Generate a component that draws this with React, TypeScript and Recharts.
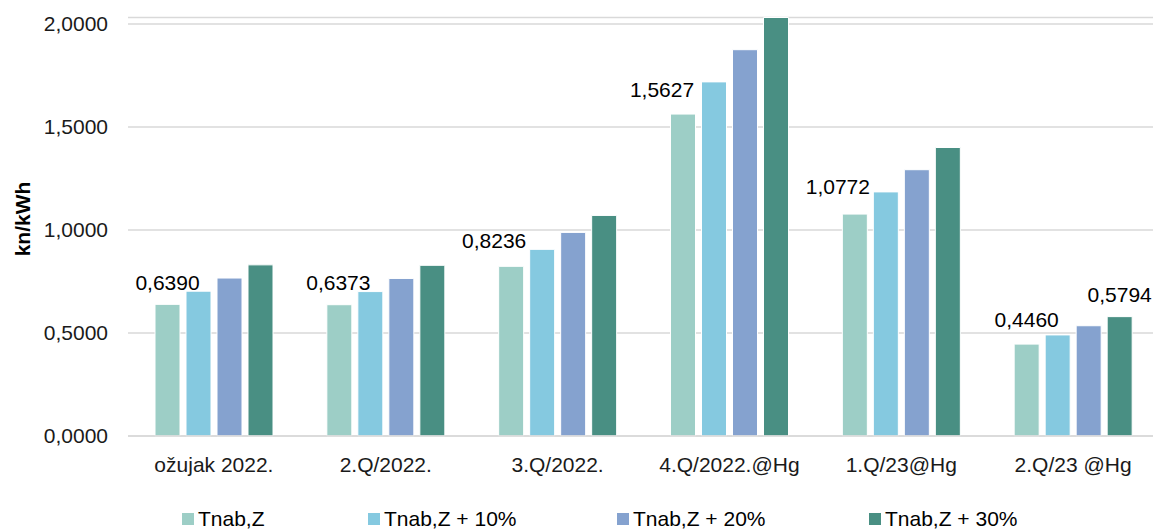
import { BarChart, Bar, XAxis, YAxis, CartesianGrid, Legend, LabelList, Label } from "recharts";

const categories = ["ožujak 2022.", "2.Q/2022.", "3.Q/2022.", "4.Q/2022.@Hg", "1.Q/23@Hg", "2.Q/23 @Hg"];
const tnab = [0.639, 0.6373, 0.8236, 1.5627, 1.0772, 0.446];
const tnab10 = [0.7029, 0.701, 0.906, 1.719, 1.1849, 0.4906];
const tnab20 = [0.7668, 0.7648, 0.9883, 1.8752, 1.2926, 0.5352];
const tnab30 = [0.8307, 0.8285, 1.0707, 2.0315, 1.4004, 0.5794];
const yTicks = [0, 0.5, 1, 1.5, 2];

const seriesNames = ["Tnab,Z", "Tnab,Z + 10%", "Tnab,Z + 20%", "Tnab,Z + 30%"];
const colors = ["#9dcec6", "#85c9e0", "#85a2cf", "#498f83"];

const data = categories.map((name, i) => ({
  name,
  s0: tnab[i],
  s1: tnab10[i],
  s2: tnab20[i],
  s3: tnab30[i],
}));

// hand-placed label nudges, like in the original workbook
const firstLabelNudge = [
  { dx: 0, dy: -14 },
  { dx: -1, dy: -15 },
  { dx: -17, dy: -18 },
  { dx: -21, dy: -17 },
  { dx: -17, dy: -20 },
  { dx: 0, dy: -17 },
];

const legendX = [182, 368, 617, 869];
const FONT = "'Liberation Sans', Arial, sans-serif";
const FS = 21;
const fmt = (v: number) => v.toFixed(4).replace(".", ",");

const FirstLabel = (props: any) => {
  const { x, y, width, value, index } = props;
  const n = firstLabelNudge[index];
  return (
    <text x={x + width / 2 + n.dx} y={y + n.dy} textAnchor="middle" fontSize={FS} fill="#000" fontFamily={FONT}>
      {fmt(value)}
    </text>
  );
};

const LastLabel = (props: any) => {
  const { x, y, width, value, index } = props;
  if (index !== categories.length - 1) return null;
  return (
    <text x={x + width / 2} y={y - 15} textAnchor="middle" fontSize={FS} fill="#000" fontFamily={FONT}>
      {fmt(value)}
    </text>
  );
};

const renderLegend = () => (
  <div style={{ position: "relative", height: 29, width: 1160, fontFamily: FONT, fontSize: FS, color: "#000" }}>
    {seriesNames.map((s, i) => (
      <div key={s} style={{ position: "absolute", left: legendX[i], top: 8, height: 21, lineHeight: "21px", display: "flex", alignItems: "center", whiteSpace: "nowrap" }}>
        <span style={{ display: "inline-block", width: 12, height: 12, background: colors[i], marginRight: 4 }} />
        <span>{s}</span>
      </div>
    ))}
  </div>
);

export default function App() {
  return (
    <div style={{ position: "absolute", left: 0, top: 0, width: 1153, height: 529, overflow: "hidden", background: "#fff" }}>
      <BarChart
        width={1160}
        height={529}
        data={data}
        margin={{ top: 17.5, right: 1, bottom: 0, left: 0 }}
        barSize={25}
        barGap={6}
      >
        <CartesianGrid vertical={false} stroke="#d9d9d9" strokeWidth={1.5} />
        <XAxis
          dataKey="name"
          height={64}
          tickLine={false}
          tickSize={0}
          tickMargin={21}
          axisLine={{ stroke: "#d9d9d9", strokeWidth: 1.5 }}
          tick={{ fontSize: FS, fill: "#1a1a1a", fontFamily: FONT }}
          interval={0}
        />
        <YAxis
          width={128}
          domain={[0, "dataMax"]}
          ticks={yTicks}
          tickFormatter={fmt}
          axisLine={false}
          tickLine={false}
          tickSize={0}
          tickMargin={20}
          tick={{ fontSize: FS, fill: "#1a1a1a", fontFamily: FONT }}
        >
          <Label
            content={() => (
              <text
                x={22}
                y={219}
                transform="rotate(-90 22 219)"
                textAnchor="middle"
                dominantBaseline="central"
                fontSize={FS}
                fontWeight="bold"
                fill="#000"
                fontFamily={FONT}
              >
                kn/kWh
              </text>
            )}
          />
        </YAxis>
        <Legend verticalAlign="bottom" content={renderLegend} wrapperStyle={{ left: 0, top: 500, width: 1160 }} />
        <Bar dataKey="s0" name={seriesNames[0]} fill={colors[0]} stroke="#fff" strokeWidth={1} isAnimationActive={false}>
          <LabelList dataKey="s0" content={FirstLabel} />
        </Bar>
        <Bar dataKey="s1" name={seriesNames[1]} fill={colors[1]} stroke="#fff" strokeWidth={1} isAnimationActive={false} />
        <Bar dataKey="s2" name={seriesNames[2]} fill={colors[2]} stroke="#fff" strokeWidth={1} isAnimationActive={false} />
        <Bar dataKey="s3" name={seriesNames[3]} fill={colors[3]} stroke="#fff" strokeWidth={1} isAnimationActive={false}>
          <LabelList dataKey="s3" content={LastLabel} />
        </Bar>
      </BarChart>
    </div>
  );
}
